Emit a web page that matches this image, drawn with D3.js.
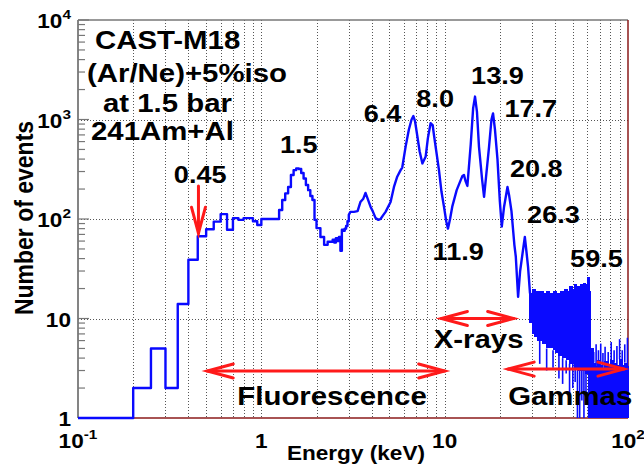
<!DOCTYPE html>
<html><head><meta charset="utf-8">
<script src="https://cdn.jsdelivr.net/npm/d3@7"></script>
<style>
body{margin:0;background:#fff}
text{font-family:"Liberation Sans",Arial,Helvetica,sans-serif;font-weight:bold;fill:#000}
</style>
</head><body>
<svg id="chart" width="644" height="473"></svg>
<script>
// ---------------- DATA ----------------
// Low-energy histogram bins (lower edges, keV; bin width 0.05 keV) and counts
const binWidth = 0.05;
const stepEnergy = [0.10,0.15,0.20,0.25,0.30,0.35,0.40,0.45,0.50,0.55,0.60,0.65,0.70,0.75,0.80,0.85,0.90,0.95,
  1.00,1.05,1.10,1.15,1.20,1.25,1.30,1.35,1.40,1.45,1.50,1.55,1.60,1.65,1.70,1.75,1.80,1.85,1.90,1.95,
  2.00,2.05,2.10,2.15,2.20,2.25,2.30,2.35,2.40,2.45,2.50,2.55,2.60,2.65,2.70,2.75,2.80,2.85,2.90,2.95];
const stepCounts = [0,0,2,5,2,14,39,67,79,94,112,78,102,98,102,102,95,87,
  100,100,100,100,100,123,155,181,210,277,310,323,318,290,255,220,195,170,155,98,
  81,81,66,66,55,55,59,59,59,62,58,64,60,66,48,78,76,80,85,95];

// Spectrum above 3 keV (fine bins, read as a line)
const lineEnergy = [3.0,3.06,3.2,3.35,3.47,3.6,3.7,3.8,3.94,4.05,4.2,4.35,4.47,4.6,4.76,5.07,5.29,5.51,5.75,5.87,
  6.12,6.38,6.6,6.75,6.9,7.1,7.3,7.56,7.88,8.1,8.38,8.6,8.74,9.0,9.31,9.6,9.91,10.2,10.42,10.7,
  11.0,11.63,12.23,12.5,12.75,13.0,13.3,13.87,14.3,14.64,15.0,15.39,16.0,16.4,16.8,17.46,18.0,18.36,18.8,19.41,
  20.0,20.49,21.09,22.01,22.5,23.14,24.0,24.43,25.15,25.8,26.59,27.37,28.0,28.5,29.2,30.0];
const lineCounts = [110,118,118,120,148,160,183,160,133,120,102,98,100,108,118,148,210,266,310,329,
  531,794,1000,1084,950,675,480,362,425,650,918,880,700,480,310,190,133,95,80,100,
  133,195,246,270,277,240,215,560,1300,1700,1200,531,250,167,260,531,1000,1152,800,400,
  150,84,133,210,170,120,55,42,16.5,30,45,66,45,33,18,16];

// High-energy noisy region: upper and lower envelope of the dense bins
const noiseEnergy = [29,30,31,32,33,34,35,36,37,38,39,40,41,42,43,44,45,46,47,48,49,50,51,52,53,54,55,56,57,58,59,60,61,62,
  64,66,68,70,72,74,76,78,80,82,84,86,88,90,92,94,96,98,100];
const noiseHigh = [18,20,19,18,19,17,18,19,17,18,19,17,18,17,19,18,20,18,19,21,19,20,22,19,21,20,22,21,23,22,20,26,19,5,
  3.6,3.3,3.8,3.4,3.1,3.7,3.4,3.2,3.8,3.1,3.6,3.4,3.2,3.9,3.4,3.1,3.6,3.3,3.4];
const noiseLow = [9,7,6.5,6,6,5.5,5.5,5,5,5,4.8,4.5,4.5,4.2,4.5,4,4,3.8,4,3.5,3.5,3.5,3.2,3.3,3,3,3,3.2,3,3,2.8,3,2,1,
  1,1,1,1,1,1,1,1,1,1,1,1,1,1,1,1,1,1,1];
// Isolated spikes in the noisy region
const spikeEnergy = [33,36,39,42,44,46,48,50,51.5,53,54.5,56,57.5,59,61,
  63,65,67,69,71,73,75,78,81,84,87,90,93,96,99.3];
const spikeCounts = [3.5,3,3.2,2.5,2.2,2.8,1.5,2,2.3,1,1,1.5,1,1.8,1,
  5,4.6,5.5,4.8,5.6,4.5,5.2,4.6,5.8,4.8,5.3,6.2,4.8,5.5,6.4];

// Axes
const xTicks = [0.1,1,10,100];
const xTickBase = ["10","1","10","10"];
const xTickExp = ["-1","","","2"];
const yTicks = [1,10,100,1000,10000];
const yTickBase = ["1","10","10","10","10"];
const yTickExp = ["","","2","3","4"];
const xGrid = [0.2,0.3,0.4,0.5,0.6,0.7,0.8,0.9,1,2,3,4,5,6,7,8,9,10,20,30,40,50,60,70,80,90];
const yGrid = [10,100,1000];

// Annotations
const peakLabels = ["0.45","1.5","6.4","8.0","11.9","13.9","17.7","20.8","26.3","59.5"];
const peakLabelEnergy = [0.464,1.60,4.58,8.87,11.85,19.4,29.5,31.6,39.2,67.3];
const peakLabelCounts = [230,461,944,1336,38.7,2275,1059,264,91.2,32.9];
const infoLines = ["CAST-M18","(Ar/Ne)+5%iso","at 1.5 bar","241Am+Al"];
const rangeLabels = ["Fluorescence","X-rays","Gammas"];
const rangeLabelEnergy = [0.740,8.71,22.2];
const rangeLabelCounts = [1.35,5.06,1.35];
const rangeFrom = [0.507,9.6,22.2];
const rangeTo = [10.0,23.8,95];
const rangeCounts = [2.97,10,3.1];
const thresholdEnergy = 0.454, thresholdFrom = 215, thresholdTo = 72;

// ---------------- DRAW ----------------
const L = 78, R = 628, T = 20, B = 418;
const SX = 1.13; // horizontal text stretch
const svg = d3.select("#chart");
const x = d3.scaleLog().domain([0.1,100]).range([L,R]);
const y = d3.scaleLog().domain([1,10000]).range([B,T]).clamp(true);
const cy = v => y(Math.max(1,v));

function txt(g, px, py, str, size, anchor){
  return g.append("text").attr("transform",`translate(${px},${py}) scale(${SX},1)`)
    .attr("text-anchor",anchor||"start").attr("font-size",size).text(str);
}
function powTxt(g, px, py, base, exp, size, anchor){
  const t = g.append("text").attr("transform",`translate(${px},${py}) scale(${SX},1)`)
    .attr("text-anchor",anchor).attr("font-size",size);
  t.append("tspan").text(base);
  if(exp) t.append("tspan").attr("font-size",size*0.68).attr("dy",-size*0.45).text(exp);
  return t;
}

// grid
const grid = svg.append("g").attr("stroke","#555").attr("stroke-width",1).attr("stroke-dasharray","1,2");
grid.selectAll("line.v").data(xGrid).join("line").attr("class","v")
  .attr("x1",d=>Math.round(x(d))+0.5).attr("x2",d=>Math.round(x(d))+0.5).attr("y1",T).attr("y2",B);
grid.selectAll("line.h").data(yGrid).join("line").attr("class","h")
  .attr("x1",L).attr("x2",R).attr("y1",d=>Math.round(y(d))+0.5).attr("y2",d=>Math.round(y(d))+0.5);

// y ticks (inside)
const yt = [];
for(let d=0; d<4; d++) for(let m=1; m<10; m++) yt.push({v:m*Math.pow(10,d), major:m===1});
yt.push({v:10000,major:true});
svg.append("g").attr("stroke","#777").attr("stroke-width",1.2).selectAll("line").data(yt).join("line")
  .attr("x1",L).attr("x2",d=>L+(d.major?11:7)).attr("y1",d=>y(d.v)).attr("y2",d=>y(d.v));

// frame
svg.append("line").attr("x1",L).attr("x2",R).attr("y1",T).attr("y2",T).attr("stroke","#777").attr("stroke-width",1.5);
svg.append("line").attr("x1",L).attr("x2",L).attr("y1",T).attr("y2",B).attr("stroke","#777").attr("stroke-width",1.8);
svg.append("line").attr("x1",L).attr("x2",R).attr("y1",B).attr("y2",B).attr("stroke","#8b1a1a").attr("stroke-width",1.5);
svg.append("line").attr("x1",R).attr("x2",R).attr("y1",T).attr("y2",B).attr("stroke","#8b1a1a").attr("stroke-width",1.5);

// histogram (step part + fine-binned part)
const pts = [];
stepEnergy.forEach((e,i)=>{ pts.push([e,stepCounts[i]]); pts.push([e+binWidth,stepCounts[i]]); });
lineEnergy.forEach((e,i)=>pts.push([e,lineCounts[i]]));
const blue = "#0a0aff";
svg.append("path").datum(pts)
  .attr("d", d3.line().x(d=>x(d[0])).y(d=>cy(d[1])))
  .attr("fill","none").attr("stroke",blue).attr("stroke-width",2.4).attr("stroke-linejoin","round");

// noisy region: one solid block per envelope segment
const noise = noiseEnergy.map((e,i)=>({e, hi:noiseHigh[i], lo:noiseLow[i], e2:noiseEnergy[i+1]}))
  .filter(d=>d.e2!==undefined);
svg.append("g").attr("fill",blue).attr("shape-rendering","crispEdges").selectAll("rect").data(noise).join("rect")
  .attr("x",d=>Math.floor(x(d.e))).attr("width",d=>Math.ceil(x(d.e2))-Math.floor(x(d.e))+1)
  .attr("y",d=>cy(d.hi)).attr("height",d=>cy(d.lo)-cy(d.hi));
const bis = d3.bisector(d=>d.e).right;
svg.append("g").attr("stroke",blue).attr("stroke-width",1.6).selectAll("line")
  .data(spikeEnergy.map((e,i)=>({e,c:spikeCounts[i]}))).join("line")
  .attr("x1",d=>x(d.e)).attr("x2",d=>x(d.e))
  .attr("y1",d=>cy(d.c))
  .attr("y2",d=>{ const n = noise[Math.min(noise.length-1,Math.max(0,bis(noise,d.e)-1))]; return d.c < n.lo ? cy(n.lo) : cy(n.hi); });

// red arrows
const red = "#ff1a1a";
const ar = svg.append("g").attr("stroke",red).attr("stroke-width",3).attr("fill","none").attr("stroke-linecap","round");
rangeFrom.forEach((f,i)=>{
  const x1 = x(f), x2 = x(rangeTo[i]), yy = y(rangeCounts[i]);
  ar.append("line").attr("x1",x1).attr("x2",x2).attr("y1",yy).attr("y2",yy);
  ar.append("path").attr("d",`M${x1+26},${yy-7}L${x1},${yy}L${x1+26},${yy+7}`);
  ar.append("path").attr("d",`M${x2-26},${yy-7}L${x2},${yy}L${x2-26},${yy+7}`);
});
{
  const xx = x(thresholdEnergy), y1 = y(thresholdFrom), y2 = y(thresholdTo);
  ar.append("line").attr("x1",xx).attr("x2",xx).attr("y1",y1).attr("y2",y2);
  ar.append("path").attr("d",`M${xx-7},${y2-26}L${xx},${y2}L${xx+7},${y2-26}`);
}

// annotations
const ann = svg.append("g");
const infoX = [95,87,103,91], infoY = [49,82,112,140];
infoLines.forEach((s,i)=>txt(ann, infoX[i], infoY[i], s, 26, "start"));
peakLabels.forEach((s,i)=>txt(ann, x(peakLabelEnergy[i]), y(peakLabelCounts[i]), s, 24, "middle"));
rangeLabels.forEach((s,i)=>txt(ann, x(rangeLabelEnergy[i]), y(rangeLabelCounts[i]), s, 26, "start"));

// tick labels
xTicks.forEach((v,i)=>powTxt(svg, x(v), 448, xTickBase[i], xTickExp[i], 20, "middle"));
yTicks.forEach((v,i)=>powTxt(svg, 71, y(v)+8, yTickBase[i], yTickExp[i], 20, "end"));

// axis titles
txt(svg, 425, 460, "Energy (keV)", 20, "end");
svg.append("text").attr("transform",`translate(33,218) scale(${SX},1) rotate(-90)`)
  .attr("text-anchor","middle").attr("font-size",23).text("Number of events");
</script>
</body></html>
